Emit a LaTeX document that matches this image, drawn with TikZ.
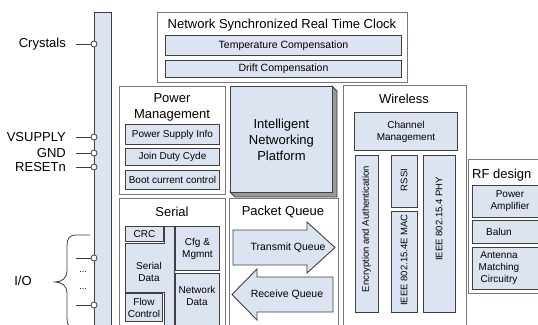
\documentclass[tikz,border=0pt]{standalone}
\usepackage{fontspec}
\setmainfont{Liberation Sans}
\usetikzlibrary{positioning}
\definecolor{boxfill}{RGB}{220,228,242}
\definecolor{boxline}{RGB}{64,64,64}
\definecolor{frameline}{RGB}{120,120,120}
\tikzset{
  wh/.style 2 args={minimum width=#1pt,minimum height=#2pt,anchor=north west},
}
\begin{document}
\begin{tikzpicture}[x=1pt, y=-1pt]
        \tikzstyle{frame}=[draw=frameline,fill=white,line width=0.8pt,inner sep=0pt]
        \tikzstyle{block}=[draw=boxline,fill=boxfill,line width=0.9pt,inner sep=0pt,align=center,font=\fontsize{10}{12}\selectfont]
        \tikzstyle{title}=[inner sep=0pt,align=center,font=\fontsize{13}{15.5}\selectfont]
        \tikzstyle{vtext}=[inner sep=0pt,rotate=90,font=\fontsize{9.5}{11}\selectfont]
        \tikzstyle{port}=[circle,draw=boxline,fill=white,line width=0.8pt,inner sep=0pt,minimum size=6pt]
        \tikzstyle{wire}=[draw=boxline,line width=0.8pt]

        \useasboundingbox (0,0) rectangle (538,324);
        \clip (0,0) rectangle (538,324);

        % bus on the left
        \node[block, wh={17}{330}] (bus) at (94,12) {};

        \node[title, anchor=east] (crystals) at (66,44)  {Crystals};
        \node[title, anchor=east] (vsupply)  at (66,137) {VSUPPLY};
        \node[title, anchor=east] (gnd)      at (66,153) {GND};
        \node[title, anchor=east] (reset)    at (66,167) {RESETn};
        \node[title] (io) at (23,281) {I/O};
        \coordinate (io_1) at (76,258);
        \coordinate (io_2) at (76,305);

        \node[port] (P_1) at (94,44)  {};
        \node[port] (P_2) at (94,137) {};
        \node[port] (P_3) at (94,153) {};
        \node[port] (P_4) at (94,167) {};
        \node[port] (P_5) at (94,258) {};
        \node[port] (P_6) at (94,305) {};

        \draw[wire, shorten <=10pt] (crystals) -- (P_1);
        \draw[wire, shorten <=10pt] (vsupply) -- (P_2);
        \draw[wire, shorten <=10pt] (gnd) -- (P_3);
        \draw[wire, shorten <=10pt] (reset) -- (P_4);
        \draw[wire] (io_1) -- (P_5);
        \draw[wire] (io_2) -- (P_6);
        \node[inner sep=0pt, font=\fontsize{9}{9}\selectfont] (dots_1) at (83,272) {...};
        \node[inner sep=0pt, font=\fontsize{9}{9}\selectfont] (dots_2) at (83,289) {...};
        \draw[wire] (90,235) -- (76,235) .. controls (69,235) and (67,239) .. (67,246) -- (67,271)
            .. controls (67,278) and (62,282) .. (55,282) .. controls (62,282) and (67,286) .. (67,293)
            -- (67,318) .. controls (67,325) and (69,329) .. (76,329);

        % real time clock
        \node[frame, wh={250}{70}] (clock) at (157,12) {};
        \node[title] (clock_t) at (282,25) {Network Synchronized Real Time Clock};
        \node[block, wh={236}{20}, font=\fontsize{10.5}{12}\selectfont] (clock_1) at (165,35) {Temperature Compensation};
        \node[block, wh={236}{17}, font=\fontsize{10.5}{12}\selectfont] (clock_2) at (165,60) {Drift Compensation};

        % power management
        \node[frame, wh={106}{108}] (power) at (119,86) {};
        \node[title] (power_t) at (172,107.5) {Power\\Management};
        \node[block, wh={94}{20}] (power_1) at (125,124) {Power Supply Info};
        \node[block, wh={94}{17}] (power_2) at (125,148) {Join Duty Cyde};
        \node[block, wh={94}{19}] (power_3) at (125,170) {Boot current control};

        % networking platform
        \filldraw[draw=boxline, fill=black!40, line width=0.8pt] (332,86) -- (337,91) -- (337,197) -- (235,197) -- (230,192) -- (332,192) -- cycle;
        \node[block, wh={102}{106}, font=\fontsize{13}{16}\selectfont] (inp) at (230,86) {Intelligent\\Networking\\Platform};

        % serial
        \node[frame, wh={106}{140}] (serial) at (119,198) {};
        \node[title] (serial_t) at (172,212) {Serial};
        \filldraw[draw=boxline, fill=boxfill, line width=0.9pt] (164,226) -- (174,226) -- (174,330) -- (164,330) -- (164,292) -- (125,292) -- (125,243) -- (164,243) -- cycle;
        \node[inner sep=0pt, align=center, font=\fontsize{10}{12}\selectfont] (serial_d) at (149,272) {Serial\\Data};
        \node[block, wh={38}{15}] (crc) at (125,226) {CRC};
        \node[block, wh={37}{28}] (flow) at (125,293) {Flow\\Control};
        \node[block, wh={44}{44}] (cfg) at (175,226) {Cfg \&\\Mgmnt};
        \node[block, wh={44}{60}] (net) at (175,273) {};
        \node[inner sep=0pt, align=center, font=\fontsize{10}{12}\selectfont] (net_t) at (197,296) {Network\\Data};

        % packet queue
        \node[frame, wh={109}{140}] (queue) at (229,198) {};
        \node[title] (queue_t) at (283,212) {Packet Queue};
        \filldraw[draw=boxline, fill=boxfill, line width=0.9pt] (233,230) -- (307,230) -- (307,222) -- (335,247.5) -- (307,273) -- (307,265) -- (233,265) -- cycle;
        \node[inner sep=0pt, font=\fontsize{10.5}{12}\selectfont] (tx) at (288,247.5) {Transmit Queue};
        \filldraw[draw=boxline, fill=boxfill, line width=0.9pt] (333,277) -- (257,277) -- (257,269) -- (232,294.5) -- (257,320) -- (257,312) -- (333,312) -- cycle;
        \node[inner sep=0pt, font=\fontsize{10.5}{12}\selectfont] (rx) at (287,294.5) {Receive Queue};

        % wireless
        \node[frame, wh={123}{250}] (wireless) at (343,85) {};
        \node[title] (wireless_t) at (404,99) {Wireless};
        \node[block, wh={103}{38}] (channel) at (354,112) {Channel\\Management};
        \node[block, wh={23}{157}] (enc) at (355,155) {};
        \node[block, wh={26}{52}] (rssi) at (391,155) {};
        \node[block, wh={26}{101}] (mac) at (391,211) {};
        \node[block, wh={32}{157}] (phy) at (423,155) {};
        \node[vtext] (enc_t) at (366.5,229) {Encryption and Authentication};
        \node[vtext] (rssi_t) at (404,180) {RSSI};
        \node[vtext] (mac_t) at (404,260) {IEEE 802.15.4E MAC};
        \node[vtext] (phy_t) at (439,219) {IEEE 802.15.4 PHY};

        % rf design
        \node[frame, wh={80}{134}] (rf) at (468,159) {};
        \node[title, anchor=west] (rf_t) at (472,175) {RF design};
        \node[block, wh={75}{32}] (rf_1) at (472,185) {Power\\Amplifier};
        \node[block, wh={75}{23}] (rf_2) at (472,220) {};
        \node[block, wh={75}{42}] (rf_3) at (472,247) {};
        \node[inner sep=0pt, font=\fontsize{10}{12}\selectfont] (balun) at (499,231.5) {Balun};
        \node[inner sep=0pt, align=center, font=\fontsize{10}{12}\selectfont] (amc) at (499,268) {Antenna\\Matching\\Circuitry};
\end{tikzpicture}
\end{document}
